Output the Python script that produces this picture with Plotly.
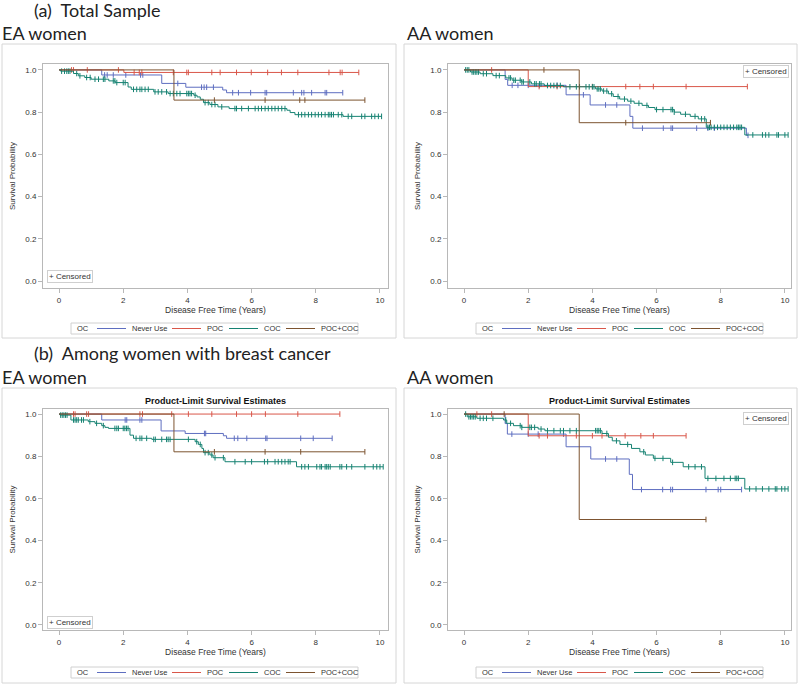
import plotly.graph_objects as go

# ---------------- DATA ----------------
group_names = ["Never Use", "POC", "COC", "POC+COC"]
x_ticks = [0, 2, 4, 6, 8, 10]
y_ticks = [0.0, 0.2, 0.4, 0.6, 0.8, 1.0]

# Panel (a) EA women -- event times / survival after event / censored times
a_ea_never_t = [1.33, 3.2, 3.95, 5.1, 5.22]
a_ea_never_s = [0.976, 0.936, 0.918, 0.905, 0.892]
a_ea_never_c = [1.42, 1.5, 1.69, 2.08, 2.54, 2.61, 3.7, 4.44, 4.52, 4.6, 4.81, 5.41, 5.59,
                5.97, 6.42, 6.47, 7.3, 7.56, 7.63, 7.87, 8.29, 8.34, 8.84]
a_ea_poc_t = [2.02]
a_ea_poc_s = [0.988]
a_ea_poc_c = [0.39, 0.45, 0.88, 1.85, 2.34, 2.5, 2.58, 3.56, 3.98, 4.03, 4.76, 5.02, 5.53,
              5.99, 6.5, 6.93, 7.44, 8.41, 8.76, 8.82, 9.34]
a_ea_coc_t = [0.05, 0.45, 0.6, 0.8, 1.0, 1.55, 1.75, 2.15, 2.25, 2.95, 3.4, 4.2, 4.3, 4.4,
              4.5, 4.7, 4.95, 5.3, 7.1, 7.2, 7.35, 8.85]
a_ea_coc_s = [0.994, 0.983, 0.972, 0.964, 0.956, 0.948, 0.94, 0.919, 0.908, 0.896, 0.888,
              0.88, 0.872, 0.861, 0.845, 0.836, 0.825, 0.817, 0.809, 0.798, 0.788, 0.78]
a_ea_coc_c = [0.08, 0.17, 0.24, 0.29, 0.34, 0.55, 0.65, 0.86, 0.97, 1.12, 1.23, 1.38, 1.43,
              1.69, 1.74, 1.8, 2.0, 2.06, 2.32, 2.42, 2.52, 2.58, 2.68, 2.78, 2.99, 3.09,
              3.2, 3.35, 3.46, 3.56, 3.67, 3.77, 3.98, 4.03, 4.08, 4.13, 4.24, 4.55, 4.65,
              4.76, 4.86, 5.07, 5.48, 5.53, 5.69, 5.9, 6.11, 6.21, 6.31, 6.42, 6.52, 6.63,
              6.73, 6.83, 6.94, 7.04, 7.46, 7.56, 7.66, 7.77, 7.87, 7.98, 8.08, 8.18, 8.29,
              8.39, 8.44, 8.49, 8.55, 8.7, 8.81, 9.01, 9.12, 9.43, 9.53, 9.74, 9.84, 9.95,
              10.05]
a_ea_pc_t = [3.58]
a_ea_pc_s = [0.857]
a_ea_pc_c = [4.84, 6.42, 7.5, 7.66, 9.53]

# Panel (a) AA women
a_aa_never_t = [1.28, 1.36, 3.18, 3.93, 5.17, 5.26, 8.8]
a_aa_never_s = [0.955, 0.927, 0.882, 0.834, 0.78, 0.724, 0.69]
a_aa_never_c = [1.5, 1.68, 2.0, 2.35, 2.9, 3.72, 4.41, 4.76, 5.56, 6.21, 6.45, 6.5, 7.25,
                7.6, 7.8, 8.85]
a_aa_poc_t = [2.0]
a_aa_poc_s = [0.921]
a_aa_poc_c = [0.86, 2.34, 2.9, 4.0, 5.04, 5.48, 5.9, 6.92, 8.83]
a_aa_coc_t = [0.2, 0.5, 0.9, 1.3, 1.5, 1.8, 2.1, 2.5, 3.1, 4.1, 4.3, 4.5, 4.65, 4.85, 5.1,
              5.3, 5.55, 5.75, 5.95, 6.55, 6.75, 7.05, 7.3, 7.55, 8.75]
a_aa_coc_s = [0.99, 0.982, 0.973, 0.962, 0.951, 0.943, 0.934, 0.926, 0.92, 0.91, 0.9, 0.887,
              0.874, 0.862, 0.852, 0.842, 0.832, 0.822, 0.812, 0.8, 0.79, 0.78, 0.768, 0.728,
              0.692]
a_aa_coc_c = [0.05, 0.1, 0.15, 0.25, 0.3, 0.35, 0.4, 0.45, 0.6, 0.7, 1.0, 1.1, 1.4, 1.45,
              1.55, 1.6, 1.75, 1.8, 1.85, 2.05, 2.2, 2.25, 2.35, 2.4, 2.6, 2.7, 2.8, 2.9, 3.0,
              3.3, 3.5, 3.6, 3.8, 3.9, 4.0, 4.05, 4.15, 4.2, 4.25, 4.35, 4.45, 4.6, 4.8, 5.0,
              5.2, 5.45, 5.7, 6.0, 6.2, 6.45, 6.5, 6.55, 6.9, 7.2, 7.4, 7.5, 7.6, 7.65, 7.7,
              7.8, 7.9, 8.0, 8.1, 8.2, 8.3, 8.4, 8.5, 8.55, 8.6, 8.65, 9.0, 9.3, 9.4, 9.5,
              9.75, 9.8, 10.0, 10.1]
a_aa_pc_t = [3.59]
a_aa_pc_s = [0.75]
a_aa_pc_c = [2.49, 5.04, 7.68]

# Panel (b) EA women
b_ea_never_t = [1.33, 3.18, 3.93, 5.12, 5.22]
b_ea_never_s = [0.972, 0.92, 0.908, 0.897, 0.885]
b_ea_never_c = [2.06, 2.11, 2.52, 2.58, 4.53, 4.57, 5.46, 5.57, 5.85, 6.44, 6.48, 7.53,
                7.92, 8.51]
b_ea_poc_t = []
b_ea_poc_s = []
b_ea_poc_c = [0.45, 0.5, 0.86, 0.92, 2.52, 2.6, 3.51, 4.03, 4.76, 5.53, 6.0, 6.43, 7.44,
              8.75]
b_ea_coc_t = [0.03, 0.37, 0.91, 1.12, 1.33, 1.43, 1.54, 2.21, 2.32, 2.89, 4.24, 4.34, 4.45,
              4.5, 4.7, 4.8, 5.17, 7.4]
b_ea_coc_s = [0.995, 0.972, 0.964, 0.956, 0.945, 0.937, 0.932, 0.9, 0.885, 0.88, 0.869,
              0.856, 0.837, 0.817, 0.806, 0.793, 0.774, 0.75]
b_ea_coc_c = [0.05, 0.1, 0.15, 0.2, 0.25, 0.45, 0.5, 0.55, 0.6, 0.7, 0.76, 0.96, 1.17, 1.38,
              1.74, 1.8, 1.85, 2.0, 2.05, 2.1, 2.15, 2.4, 2.52, 2.58, 2.73, 2.95, 3.0, 3.2,
              3.35, 3.4, 3.46, 4.03, 4.29, 4.4, 4.55, 4.65, 4.76, 4.86, 5.12, 5.48, 5.8,
              6.0, 6.4, 6.5, 6.73, 6.83, 6.94, 7.04, 7.14, 7.2, 7.56, 7.66, 7.77, 8.03, 8.13,
              8.18, 8.29, 8.34, 8.39, 8.45, 8.75, 8.81, 8.96, 9.12, 9.53, 9.79, 9.9, 10.0,
              10.1]
b_ea_pc_t = [3.58]
b_ea_pc_s = [0.821]
b_ea_pc_c = [4.84, 6.42, 7.53, 9.53]

# Panel (b) AA women
b_aa_never_t = [1.28, 1.35, 3.18, 3.95, 5.15, 5.25]
b_aa_never_s = [0.955, 0.905, 0.845, 0.787, 0.714, 0.642]
b_aa_never_c = [1.49, 2.0, 2.31, 3.1, 4.41, 4.76, 5.53, 6.19, 6.44, 6.5, 7.54, 7.92, 8.0,
                8.65]
b_aa_poc_t = [2.0]
b_aa_poc_s = [0.897]
b_aa_poc_c = [0.4, 0.86, 2.34, 2.6, 3.5, 4.0, 4.3, 5.02, 5.51, 5.9, 6.92]
b_aa_coc_t = [0.1, 0.4, 1.23, 1.33, 1.54, 1.8, 2.31, 2.52, 4.3, 4.5, 4.62, 4.86, 5.22, 5.48,
              5.65, 5.9, 6.44, 6.83, 7.51, 8.75]
b_aa_coc_s = [0.987, 0.98, 0.972, 0.956, 0.945, 0.937, 0.929, 0.921, 0.908, 0.89, 0.873,
              0.856, 0.837, 0.821, 0.806, 0.79, 0.771, 0.75, 0.695, 0.645]
b_aa_coc_c = [0.05, 0.15, 0.2, 0.25, 0.3, 0.35, 0.5, 0.6, 0.7, 0.9, 1.3, 1.45, 1.75, 1.8,
              2.05, 2.1, 2.2, 2.4, 2.6, 2.8, 3.0, 3.1, 3.3, 3.5, 4.1, 4.15, 4.2, 4.25, 4.45,
              4.75, 5.1, 5.6, 5.95, 6.2, 6.5, 7.0, 7.2, 7.4, 7.6, 7.85, 8.1, 8.3, 8.45, 8.5,
              8.55, 8.9, 9.1, 9.3, 9.5, 9.7, 9.75, 9.9, 10.0, 10.1]
b_aa_pc_t = [3.59]
b_aa_pc_s = [0.5]
b_aa_pc_c = [1.25, 7.54]

# ---------------- STYLE ----------------
colors = ["#5E6EC0", "#D9574A", "#168272", "#7D5430"]
SAS_FONT = "Liberation Sans, Arial, sans-serif"
HEAD_FONT = "Lato, Open Sans, sans-serif"
W, H = 800, 685
TXT = "#333333"

panels = [
    dict(groups=[(a_ea_never_t, a_ea_never_s, a_ea_never_c), (a_ea_poc_t, a_ea_poc_s, a_ea_poc_c),
                 (a_ea_coc_t, a_ea_coc_s, a_ea_coc_c), (a_ea_pc_t, a_ea_pc_s, a_ea_pc_c)],
         xd=(43, 388), yd=(64, 288), xr=[-0.5, 10.25], yr=[-0.033, 1.028],
         box=(2, 44, 396, 338), leg=(71, 323, 334), cens=("bl", 47, 277), title=False),
    dict(groups=[(a_aa_never_t, a_aa_never_s, a_aa_never_c), (a_aa_poc_t, a_aa_poc_s, a_aa_poc_c),
                 (a_aa_coc_t, a_aa_coc_s, a_aa_coc_c), (a_aa_pc_t, a_aa_pc_s, a_aa_pc_c)],
         xd=(448, 791), yd=(64, 288), xr=[-0.5, 10.19], yr=[-0.033, 1.028],
         box=(404, 44, 797, 338), leg=(476, 323, 334), cens=("tr", 789, 72), title=False),
    dict(groups=[(b_ea_never_t, b_ea_never_s, b_ea_never_c), (b_ea_poc_t, b_ea_poc_s, b_ea_poc_c),
                 (b_ea_coc_t, b_ea_coc_s, b_ea_coc_c), (b_ea_pc_t, b_ea_pc_s, b_ea_pc_c)],
         xd=(43, 388), yd=(409, 630), xr=[-0.5, 10.25], yr=[-0.024, 1.024],
         box=(2, 388, 396, 683), leg=(71, 667, 678), cens=("bl", 47, 622), title=True),
    dict(groups=[(b_aa_never_t, b_aa_never_s, b_aa_never_c), (b_aa_poc_t, b_aa_poc_s, b_aa_poc_c),
                 (b_aa_coc_t, b_aa_coc_s, b_aa_coc_c), (b_aa_pc_t, b_aa_pc_s, b_aa_pc_c)],
         xd=(448, 791), yd=(409, 630), xr=[-0.5, 10.19], yr=[-0.024, 1.024],
         box=(404, 388, 797, 683), leg=(476, 667, 678), cens=("tr", 789, 418), title=True),
]

# legend layout offsets (px, relative to legend box left edge)
LEG_W = 287
LEG_OC_X = 4
LEG_LINE_X = [26, 101, 158, 215]
LEG_LINE_LEN = 29
LEG_TEXT_GAP = 4


def px_x(p):
    return p / W


def px_y(p):
    return 1 - p / H


def surv_at(t, times, surv):
    s = 1.0
    for ti, si in zip(times, surv):
        if ti <= t:
            s = si
    return s


fig = go.Figure()
shapes, annotations = [], []
layout = {}

# full-page overlay subplot (pixel coordinates) for legend line samples
layout["xaxis5"] = dict(domain=[0, 1], range=[0, W], visible=False, fixedrange=True,
                        anchor="y5")
layout["yaxis5"] = dict(domain=[0, 1], range=[H, 0], visible=False, fixedrange=True,
                        anchor="x5")

for i, p in enumerate(panels):
    n = i + 1
    xa = "x" if n == 1 else f"x{n}"
    ya = "y" if n == 1 else f"y{n}"
    for g, (times, surv, cens) in enumerate(p["groups"]):
        end = max([0.0] + list(times) + list(cens))
        xs = [0.0] + list(times) + [end]
        ys = [1.0] + list(surv) + [surv[-1] if surv else 1.0]
        fig.add_trace(go.Scatter(
            x=xs, y=ys, mode="lines", line=dict(shape="hv", color=colors[g], width=1),
            name=group_names[g], xaxis=xa, yaxis=ya, showlegend=False, hoverinfo="skip"))
        fig.add_trace(go.Scatter(
            x=cens, y=[surv_at(t, times, surv) for t in cens], mode="markers",
            marker=dict(symbol="line-ns", size=4, color=colors[g],
                        line=dict(width=1, color=colors[g])),
            name=group_names[g] + " censored",
            xaxis=xa, yaxis=ya, showlegend=False, hoverinfo="skip"))

    xkey = "xaxis" if n == 1 else f"xaxis{n}"
    ykey = "yaxis" if n == 1 else f"yaxis{n}"
    common = dict(showline=True, mirror=True, linecolor="#b8b8b8", linewidth=1,
                  ticks="outside", ticklen=4, tickcolor="#b8b8b8", showgrid=False,
                  zeroline=False, tickfont=dict(family=SAS_FONT, size=8, color=TXT),
                  fixedrange=True)
    layout[xkey] = dict(common, domain=[px_x(p["xd"][0]), px_x(p["xd"][1])], range=p["xr"],
                        tickvals=x_ticks, anchor=ya,
                        title=dict(text="Disease Free Time (Years)", standoff=3,
                                   font=dict(family=SAS_FONT, size=8.5, color=TXT)))
    layout[ykey] = dict(common, domain=[px_y(p["yd"][1]), px_y(p["yd"][0])], range=p["yr"],
                        tickvals=y_ticks, tickformat=".1f", anchor=xa,
                        title=dict(text="Survival Probability", standoff=8,
                                   font=dict(family=SAS_FONT, size=8, color=TXT)))

    # outer panel frame
    b = p["box"]
    shapes.append(dict(type="rect", xref="paper", yref="paper",
                       x0=px_x(b[0]), x1=px_x(b[2]), y0=px_y(b[3]), y1=px_y(b[1]),
                       line=dict(color="#d6d6d6", width=1), fillcolor="rgba(0,0,0,0)",
                       layer="below"))

    # group legend (OC)
    lx, ly0, ly1 = p["leg"]
    lyc = (ly0 + ly1) / 2
    shapes.append(dict(type="rect", xref="paper", yref="paper",
                       x0=px_x(lx), x1=px_x(lx + LEG_W), y0=px_y(ly1), y1=px_y(ly0),
                       line=dict(color="#d0d0d0", width=1), fillcolor="rgba(0,0,0,0)",
                       layer="below"))
    annotations.append(dict(text="OC", xref="paper", yref="paper", x=px_x(lx + LEG_OC_X),
                            y=px_y(lyc), xanchor="left", yanchor="middle", showarrow=False,
                            font=dict(family=SAS_FONT, size=7.5, color=TXT)))
    for g in range(4):
        x0 = lx + LEG_LINE_X[g]
        fig.add_trace(go.Scatter(
            x=[x0, x0 + LEG_LINE_LEN], y=[lyc, lyc], mode="lines",
            line=dict(color=colors[g], width=1), xaxis="x5", yaxis="y5",
            showlegend=False, hoverinfo="skip", name=group_names[g] + " legend"))
        annotations.append(dict(text=group_names[g], xref="paper", yref="paper",
                                x=px_x(x0 + LEG_LINE_LEN + LEG_TEXT_GAP), y=px_y(lyc),
                                xanchor="left", yanchor="middle", showarrow=False,
                                font=dict(family=SAS_FONT, size=7.5, color=TXT)))

    # censored legend
    pos, cx, cy = p["cens"]
    annotations.append(dict(
        text="+ Censored", xref="paper", yref="paper", x=px_x(cx), y=px_y(cy),
        xanchor="left" if pos == "bl" else "right", yanchor="middle", showarrow=False,
        font=dict(family=SAS_FONT, size=8, color=TXT),
        bordercolor="#cfcfcf", borderwidth=1, borderpad=1, bgcolor="white"))

    if p["title"]:
        annotations.append(dict(
            text="<b>Product-Limit Survival Estimates</b>", xref="paper", yref="paper",
            x=px_x((p["xd"][0] + p["xd"][1]) / 2), y=px_y(401), xanchor="center",
            yanchor="middle", showarrow=False,
            font=dict(family=SAS_FONT, size=9, color="#111111")))

headings = [("(a)  Total Sample", 32, 10), ("EA women", 0, 33), ("AA women", 405, 33),
            ("(b)  Among women with breast cancer", 32, 353), ("EA women", 0, 377),
            ("AA women", 405, 377)]
for txt, hx, hy in headings:
    annotations.append(dict(text=txt, xref="paper", yref="paper", x=px_x(hx), y=px_y(hy),
                            xanchor="left", yanchor="middle", showarrow=False,
                            font=dict(family=HEAD_FONT, size=18, color="#222222")))

fig.update_layout(
    width=W, height=H, margin=dict(l=0, r=0, t=0, b=0, autoexpand=False),
    paper_bgcolor="white", plot_bgcolor="rgba(0,0,0,0)",
    shapes=shapes, annotations=annotations, **layout)

fig.write_html("out.html", config={"displayModeBar": False},
               post_script="document.body.style.margin='0';document.body.style.padding='0';")
